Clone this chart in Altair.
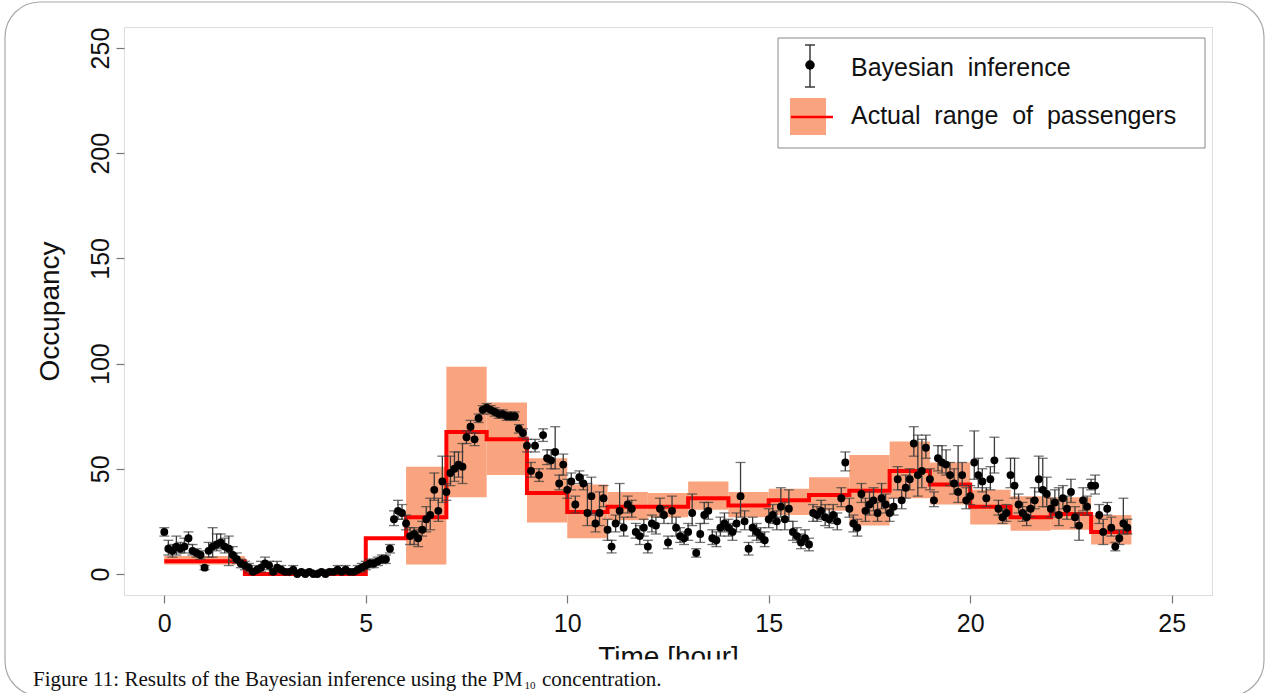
import altair as alt
import pandas as pd

# ---- hourly passenger counts: representative value and actual range ----
HOURS = list(range(24))
ACTUAL = [6, 6, 0, 0, 0, 17, 27, 67.5, 64, 38.5, 29.5, 32, 32, 36, 32.5, 35,
          37.5, 39.5, 49, 42.5, 32, 27, 28.5, 20]
RANGE_LO = [4.5, 4.5, 0, 0, 0, 17, 4.5, 36.5, 47, 24.5, 17, 25.5, 27, 30.5, 27, 28,
            30, 23, 36, 33, 23.5, 20.5, 21, 14]
RANGE_HI = [8.5, 8.5, 1, 1, 1, 17, 51, 98.5, 81.5, 55, 42.5, 39, 38.5, 44, 39, 40.5,
            46, 56.5, 63, 53, 40, 37, 36.5, 28]

# ---- Bayesian estimates, ten per hour (every 6 minutes) ----
ESTIMATE = [
    [20, 12, 11, 13, 12, 13, 17, 11, 10, 9],
    [3, 11, 13, 14, 15, 13, 12, 9, 7, 5],
    [4, 3, 1, 2, 3, 5, 4, 1, 3, 2],
    [1, 1, 2, 0, 1, 0, 1, 0, 0, 1],
    [0, 1, 1, 2, 1, 2, 1, 1, 2, 3],
    [4, 5, 5, 6, 7, 7, 12, 26, 30, 29],
    [24, 18, 19, 17, 21, 26, 28, 40, 30, 44],
    [39, 48, 50, 52, 51, 65, 70, 64, 74, 78],
    [79, 78, 77, 76, 76, 75, 75, 75, 69, 67],
    [61, 49, 61, 47, 66, 55, 54, 58, 43, 52],
    [40, 44, 33, 46, 43, 29, 37, 24, 29, 36],
    [21, 13, 24, 30, 22, 33, 31, 20, 18, 22],
    [13, 24, 23, 31, 28, 15, 30, 22, 18, 17],
    [20, 29, 10, 19, 28, 30, 17, 16, 22, 24],
    [22, 20, 24, 37, 25, 12, 22, 20, 18, 16],
    [26, 28, 25, 32, 26, 31, 20, 18, 15, 17],
    [14, 29, 28, 30, 27, 26, 28, 25, 36, 53],
    [31, 24, 22, 38, 30, 33, 35, 29, 36, 33],
    [29, 32, 45, 35, 41, 45, 62, 47, 49, 60],
    [45, 35, 55, 53, 52, 47, 43, 39, 47, 35],
    [37, 53, 47, 44, 36, 45, 54, 31, 27, 29],
    [47, 42, 33, 29, 27, 31, 35, 45, 40, 38],
    [31, 34, 28, 36, 31, 39, 27, 23, 35, 32],
    [42, 42, 28, 20, 31, 22, 13, 17, 24, 22],
]
# upper / lower error-bar extents of each estimate
ERR_UP = [
    [2, 4, 3, 5, 3, 4, 3, 3, 2, 2],
    [1, 4, 9, 5, 4, 4, 6, 4, 3, 2],
    [2, 2, 1, 2, 3, 3, 2, 1, 3, 2],
    [1, 1, 2, 1, 1, 1, 1, 1, 1, 1],
    [1, 1, 1, 2, 1, 2, 1, 1, 2, 2],
    [2, 2, 2, 2, 2, 2, 2, 4, 5, 4],
    [4, 4, 3, 4, 4, 6, 8, 8, 6, 12],
    [4, 8, 8, 6, 11, 3, 3, 3, 2, 2],
    [2, 2, 2, 2, 2, 2, 2, 2, 2, 2],
    [3, 4, 3, 3, 3, 4, 5, 12, 4, 5],
    [5, 4, 4, 3, 4, 14, 9, 5, 10, 6],
    [5, 3, 4, 13, 5, 4, 4, 4, 5, 4],
    [3, 4, 4, 5, 4, 3, 7, 5, 4, 3],
    [4, 9, 2, 5, 6, 4, 4, 4, 5, 5],
    [4, 4, 5, 16, 5, 3, 5, 4, 4, 4],
    [5, 5, 5, 9, 8, 9, 5, 4, 4, 4],
    [3, 4, 4, 5, 6, 5, 5, 4, 5, 5],
    [5, 4, 4, 5, 6, 6, 6, 5, 7, 5],
    [4, 4, 6, 5, 6, 5, 8, 19, 15, 6],
    [5, 4, 6, 8, 7, 6, 7, 22, 6, 6],
    [5, 15, 8, 6, 5, 6, 11, 4, 4, 4],
    [8, 13, 5, 5, 5, 5, 6, 11, 15, 8],
    [5, 6, 13, 6, 6, 6, 5, 6, 6, 5],
    [3, 5, 5, 6, 3, 5, 2, 4, 12, 4],
]
ERR_DN = [
    [2, 3, 3, 4, 2, 3, 3, 2, 2, 2],
    [1, 3, 5, 3, 3, 3, 8, 3, 2, 2],
    [2, 2, 1, 1, 2, 2, 2, 1, 2, 1],
    [1, 1, 1, 0, 1, 0, 1, 0, 0, 1],
    [0, 1, 1, 1, 1, 1, 1, 1, 1, 2],
    [2, 2, 2, 2, 2, 2, 2, 3, 4, 3],
    [3, 4, 5, 4, 3, 6, 7, 5, 5, 10],
    [4, 6, 6, 6, 8, 3, 3, 3, 2, 2],
    [2, 2, 2, 2, 2, 2, 2, 2, 2, 2],
    [3, 3, 3, 3, 3, 3, 4, 8, 3, 5],
    [4, 4, 4, 3, 3, 6, 9, 4, 6, 4],
    [5, 3, 4, 6, 4, 4, 4, 3, 4, 4],
    [3, 4, 4, 4, 4, 3, 6, 4, 3, 3],
    [4, 6, 2, 4, 4, 4, 3, 3, 4, 4],
    [4, 4, 4, 10, 4, 3, 4, 4, 3, 3],
    [4, 4, 4, 5, 5, 6, 4, 3, 3, 3],
    [3, 4, 3, 4, 4, 4, 4, 4, 4, 4],
    [4, 4, 4, 4, 5, 5, 5, 4, 5, 4],
    [4, 4, 5, 4, 5, 5, 6, 10, 8, 5],
    [5, 3, 6, 5, 5, 5, 5, 5, 5, 4],
    [4, 8, 6, 5, 4, 5, 6, 3, 3, 4],
    [6, 6, 4, 4, 4, 4, 4, 6, 8, 6],
    [4, 5, 5, 5, 5, 5, 5, 7, 5, 4],
    [2, 4, 4, 6, 3, 4, 2, 3, 5, 3],
]

X_TICKS = [0, 5, 10, 15, 20, 25]
Y_TICKS = [0, 50, 100, 150, 200, 250]

# ---- tables ----
band_df = pd.DataFrame({"h0": HOURS, "h1": [h + 1 for h in HOURS],
                        "lo": RANGE_LO, "hi": RANGE_HI})
step_df = pd.DataFrame({"t": HOURS + [24], "v": ACTUAL + [ACTUAL[-1]]})
rows = []
for h in HOURS:
    for i in range(10):
        v = ESTIMATE[h][i]
        rows.append({"t": h + i / 10, "v": v,
                     "lo": v - ERR_DN[h][i], "hi": v + ERR_UP[h][i]})
est_df = pd.DataFrame(rows)
one = pd.DataFrame({"k": [0]})

W, H = 1088, 568
FONT = "Liberation Sans"
INK = "#111111"
SALMON = "#F9A47E"
BAR = "#3a3a3a"

XS = alt.Scale(domain=[-1, 26], nice=False, zero=False)
YS = alt.Scale(domain=[-10, 260], nice=False, zero=False)
XA = alt.Axis(values=X_TICKS, title="Time [hour]", grid=False, domain=False,
              tickSize=8, tickColor="#777777", tickWidth=1.2,
              labelFont=FONT, labelFontSize=25, labelColor=INK,
              labelPadding=28, labelBaseline="alphabetic", labelFlush=False,
              titleFont=FONT, titleFontSize=28, titleFontWeight="normal",
              titleColor=INK, titleX=W / 2, titleY=70, titleAlign="center",
              titleBaseline="alphabetic")
YA = alt.Axis(values=Y_TICKS, title="Occupancy", grid=False, domain=False,
              tickSize=8, tickColor="#777777", tickWidth=1.2,
              labelFont=FONT, labelFontSize=25, labelColor=INK,
              labelAngle=270, labelAlign="center", labelBaseline="alphabetic",
              labelPadding=8, labelFlush=False,
              titleFont=FONT, titleFontSize=28, titleFontWeight="normal",
              titleColor=INK, titleAngle=270, titleX=-66, titleY=H / 2,
              titleAlign="center", titleBaseline="alphabetic")


def xq(f):
    return alt.X(f, type="quantitative", scale=XS, axis=XA)


def yq(f):
    return alt.Y(f, type="quantitative", scale=YS, axis=YA)


bands = alt.Chart(band_df).mark_rect(color=SALMON, opacity=1).encode(
    x=xq("h0"), x2="h1", y=yq("lo"), y2="hi")
step = alt.Chart(step_df).mark_line(
    interpolate="step-after", color="#ff0000", strokeWidth=4).encode(
    x=xq("t"), y=yq("v"))
bars = alt.Chart(est_df).mark_rule(color=BAR, strokeWidth=1.3).encode(
    x=xq("t"), y=yq("lo"), y2="hi")
caps_hi = alt.Chart(est_df).mark_tick(
    orient="horizontal", size=10, thickness=1.3, color=BAR).encode(
    x=xq("t"), y=yq("hi"))
caps_lo = alt.Chart(est_df).mark_tick(
    orient="horizontal", size=10, thickness=1.3, color=BAR).encode(
    x=xq("t"), y=yq("lo"))
dots = alt.Chart(est_df).mark_circle(size=62, color="black", opacity=1).encode(
    x=xq("t"), y=yq("v"))

# ---- legend ----
leg_box = alt.Chart(one).mark_rect(fill="white", stroke="#888888", strokeWidth=1).encode(
    x=alt.value(654), x2=alt.value(1081), y=alt.value(11), y2=alt.value(121))
leg_bar = alt.Chart(one).mark_rule(color=BAR, strokeWidth=1.5).encode(
    x=alt.value(686), y=alt.value(18), y2=alt.value(60))
leg_cap1 = alt.Chart(one).mark_rule(color=BAR, strokeWidth=1.5).encode(
    x=alt.value(681), x2=alt.value(691), y=alt.value(18))
leg_cap2 = alt.Chart(one).mark_rule(color=BAR, strokeWidth=1.5).encode(
    x=alt.value(681), x2=alt.value(691), y=alt.value(60))
leg_dot = alt.Chart(one).mark_circle(color="black", size=90, opacity=1).encode(
    x=alt.value(686), y=alt.value(38))
leg_t1 = alt.Chart(one).mark_text(
    align="left", baseline="middle", font=FONT, fontSize=25, color=INK,
    text="Bayesian\u00a0 inference").encode(x=alt.value(727), y=alt.value(41))
leg_sq = alt.Chart(one).mark_rect(color=SALMON, opacity=1).encode(
    x=alt.value(666), x2=alt.value(702), y=alt.value(71), y2=alt.value(108))
leg_red = alt.Chart(one).mark_rule(color="#ff0000", strokeWidth=2.5).encode(
    x=alt.value(667), x2=alt.value(709), y=alt.value(90))
leg_t2 = alt.Chart(one).mark_text(
    align="left", baseline="middle", font=FONT, fontSize=25, color=INK,
    text="Actual\u00a0 range\u00a0 of\u00a0 passengers").encode(
    x=alt.value(727), y=alt.value(89))

# ---- figure caption area ----
strip = alt.Chart(one).mark_rect(fill="white", opacity=1).encode(
    x=alt.value(-124), x2=alt.value(1143), y=alt.value(632.5), y2=alt.value(672))
frame = alt.Chart(one).mark_rect(
    fillOpacity=0, stroke="#a8a8a8", strokeWidth=1.2, cornerRadius=35).encode(
    x=alt.value(-119), x2=alt.value(1140), y=alt.value(-25), y2=alt.value(669))
cap_a = alt.Chart(one).mark_text(
    align="left", baseline="alphabetic", font="Liberation Serif", fontSize=21,
    color=INK, text="Figure 11: Results of the Bayesian inference using the PM").encode(
    x=alt.value(-91), y=alt.value(659))
cap_b = alt.Chart(one).mark_text(
    align="left", baseline="alphabetic", font="Liberation Serif", fontSize=11,
    color=INK, text="10").encode(x=alt.value(400.5), y=alt.value(662))
cap_c = alt.Chart(one).mark_text(
    align="left", baseline="alphabetic", font="Liberation Serif", fontSize=21,
    color=INK, text="concentration.").encode(x=alt.value(418), y=alt.value(659))

chart = alt.layer(
    bands, step, bars, caps_hi, caps_lo, dots,
    leg_box, leg_bar, leg_cap1, leg_cap2, leg_dot, leg_t1, leg_sq, leg_red, leg_t2,
    strip, frame, cap_a, cap_b, cap_c,
).properties(
    width=W, height=H,
    padding={"left": 124, "top": 27, "right": 55, "bottom": 98},
    autosize=alt.AutoSizeParams(type="none"),
    background="white",
).configure_view(
    stroke="#7a7a7a", strokeWidth=1.5
).configure(font=FONT)

chart.save("out.html", embed_options={"renderer": "svg", "actions": False})
